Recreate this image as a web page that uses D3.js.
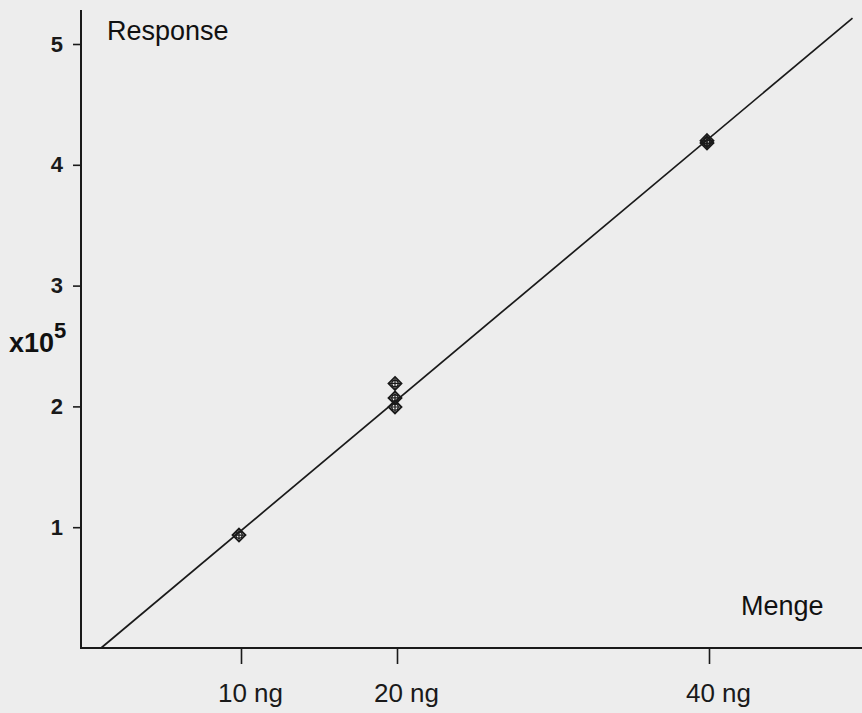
<!DOCTYPE html>
<html>
<head>
<meta charset="utf-8">
<script src="https://cdn.jsdelivr.net/npm/d3@7"></script>
<style>
  html, body { margin: 0; padding: 0; background: #ededed; }
  svg { display: block; }
  text { font-family: "Liberation Sans", Arial, Helvetica, sans-serif; fill: #111; }
</style>
</head>
<body>
<svg id="chart" width="862" height="713"></svg>
<script>
// ---- data ----
const xTickValues = [10, 20, 40];
const xTickLabels = ["10 ng", "20 ng", "40 ng"];
const yTickValues = [1, 2, 3, 4, 5];
const yTickLabels = ["1", "2", "3", "4", "5"];
const pointAmounts = [10, 20, 20, 20, 40, 40];          // ng
const pointResponses = [0.935, 2.19, 2.07, 1.995, 4.18, 4.20]; // x10^5
const fitAmounts = [1.03, 49.2];
const fitResponses = [0, 5.215];
const yAxisTitle = "Response";
const xAxisTitle = "Menge";
const exponentBase = "x10";
const exponentPower = "5";

// ---- layout ----
const svg = d3.select("#chart");
const W = 862, H = 713;
const axisX = 81, axisY = 648;

const x = d3.scaleLinear().domain([0, 50]).range([85, 865]);
const y = d3.scaleLinear().domain([0, 5]).range([axisY, 44]);

const ink = "#1a1a1a";
const FF = '"Liberation Sans", Arial, Helvetica, sans-serif';

// y axis
const yAxis = d3.axisLeft(y)
  .tickValues(yTickValues)
  .tickFormat((d, i) => yTickLabels[i])
  .tickSize(8)
  .tickPadding(10);
const gy = svg.append("g").attr("transform", `translate(${axisX},0)`).call(yAxis)
  .attr("font-size", null).attr("font-family", null);
gy.select(".domain").remove();
gy.selectAll(".tick line").attr("stroke", ink).attr("stroke-width", 1.6);
gy.selectAll(".tick text")
  .style("font-size", "22px").style("font-weight", "bold")
  .style("font-family", FF)
  .style("fill", ink);
svg.append("line")
  .attr("x1", axisX).attr("x2", axisX)
  .attr("y1", 10).attr("y2", axisY + 1)
  .attr("stroke", ink).attr("stroke-width", 2);

// x axis
const xAxis = d3.axisBottom(x)
  .tickValues(xTickValues)
  .tickFormat((d, i) => xTickLabels[i])
  .tickSize(16)
  .tickPadding(20);
const gx = svg.append("g").attr("transform", `translate(0,${axisY})`).call(xAxis)
  .attr("font-size", null).attr("font-family", null);
gx.select(".domain").remove();
gx.selectAll(".tick line").attr("stroke", ink).attr("stroke-width", 1.6);
gx.selectAll(".tick text")
  .style("font-size", "26px")
  .style("font-family", FF)
  .style("fill", ink)
  .attr("dx", 9);
svg.append("line")
  .attr("x1", axisX).attr("x2", W)
  .attr("y1", axisY).attr("y2", axisY)
  .attr("stroke", ink).attr("stroke-width", 2);

// titles
svg.append("text").attr("x", 107).attr("y", 40)
  .style("font-size", "27px").text(yAxisTitle);
svg.append("text").attr("x", 741).attr("y", 615)
  .style("font-size", "27px").text(xAxisTitle);
const ex = svg.append("text").attr("x", 9).attr("y", 352)
  .style("font-weight", "bold");
ex.append("tspan").style("font-size", "27px").text(exponentBase);
ex.append("tspan").style("font-size", "22px").attr("dy", -14).text(exponentPower);

// fitted line
const fit = fitAmounts.map((a, i) => [a, fitResponses[i]]);
svg.append("path")
  .datum(fit)
  .attr("d", d3.line().x(d => x(d[0])).y(d => y(d[1])))
  .attr("fill", "none").attr("stroke", ink).attr("stroke-width", 1.7);

// markers: diamond with circle-plus inside
const pts = pointAmounts.map((a, i) => [a, pointResponses[i]]);
const s = 6.5;
const mk = svg.append("g").selectAll("g").data(pts).join("g")
  .attr("transform", d => `translate(${x(d[0]) - 2},${y(d[1])})`);
mk.append("path")
  .attr("d", `M0,${-s}L${s},0L0,${s}L${-s},0Z`)
  .attr("fill", "none").attr("stroke", ink).attr("stroke-width", 1.8);
mk.append("circle").attr("r", 3.2)
  .attr("fill", "none").attr("stroke", ink).attr("stroke-width", 1.3);
mk.append("path")
  .attr("d", `M${-s},0H${s}M0,${-s}V${s}`)
  .attr("stroke", ink).attr("stroke-width", 1.2);
</script>
</body>
</html>
